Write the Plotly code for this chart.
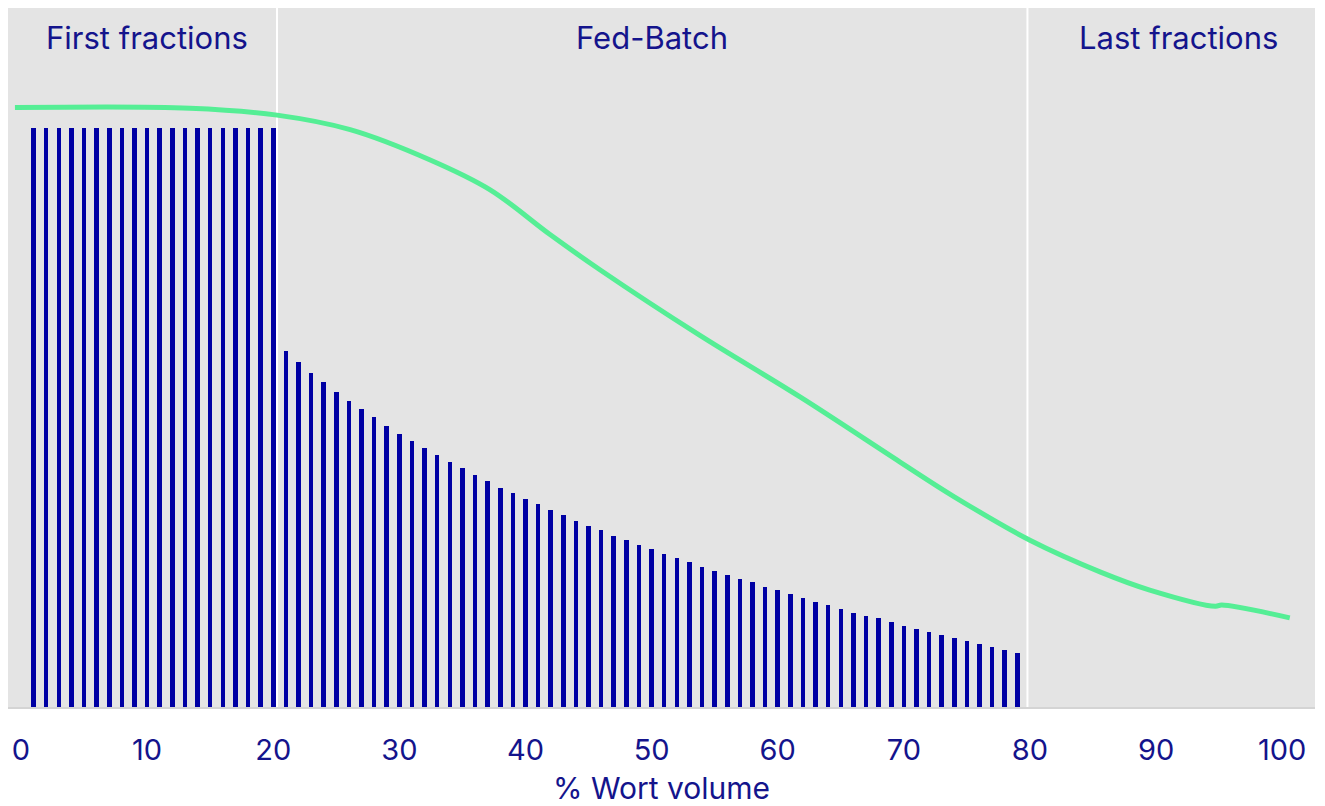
import plotly.graph_objects as go

# ---- data ----
bar_x = list(range(1, 80))
bar_values = [
    100, 100, 100, 100, 100, 100, 100, 100, 100, 100,
    100, 100, 100, 100, 100, 100, 100, 100, 100, 100,
    61.4, 59.6, 57.7, 56.1, 54.4, 52.9, 51.4, 50.0, 48.6, 47.2,
    45.9, 44.7, 43.5, 42.3, 41.2, 40.1, 39.0, 37.9, 37.0, 35.9,
    35.0, 34.0, 33.1, 32.2, 31.3, 30.5, 29.6, 28.8, 28.0, 27.2,
    26.5, 25.7, 25.0, 24.2, 23.5, 22.8, 22.1, 21.5, 20.7, 20.2,
    19.5, 18.8, 18.2, 17.6, 16.9, 16.3, 15.8, 15.3, 14.7, 14.0,
    13.5, 13.0, 12.4, 11.9, 11.4, 10.8, 10.4, 9.8, 9.3,
]

line_x = [-0.48, 13.4, 20.3, 26.1, 32.4, 37.2, 42.0, 45.9, 53.8, 61.8,
          69.7, 74.0, 80.0, 85.6, 89.5, 94.7, 95.2, 100.6]
line_y = [103.5, 103.4, 102.2, 99.7, 94.5, 89.3, 81.5, 75.5, 64.2, 53.5,
          42.3, 36.3, 28.8, 23.3, 20.2, 17.4, 17.6, 15.4]

phase_labels = ["First fractions", "Fed-Batch", "Last fractions"]
phase_centers = [10, 50, 91.8]
phase_bounds = [20.3, 79.8]

tick_vals = [0, 10, 20, 30, 40, 50, 60, 70, 80, 90, 100]
tick_text = ["0", "10", "20", "30", "40", "50", "60", "70", "80", "90", "100"]

x_title = "% Wort volume"

TEXT = "#14148c"
BAR = "#0000a3"
LINE = "#55ee95"
FONT = "Inter"

W, H = 1317, 798
ML, MR, MT, MB = 0, 10, 0, 99
plot_h = H - MT - MB

fig = go.Figure()
fig.add_trace(go.Bar(x=bar_x, y=bar_values, width=0.36,
                     marker=dict(color=BAR, line=dict(width=0)),
                     hoverinfo="skip"))
fig.add_trace(go.Scatter(x=line_x, y=line_y, mode="lines",
                         line=dict(color=LINE, width=5, shape="spline", smoothing=1.0),
                         hoverinfo="skip"))

for b in phase_bounds:
    fig.add_shape(type="line", xref="x", yref="paper", x0=b, x1=b, y0=0, y1=1,
                  line=dict(color="white", width=2), layer="below")

for lab, c in zip(phase_labels, phase_centers):
    fig.add_annotation(x=c, xref="x", y=1 - 30 / plot_h, yref="paper", yanchor="middle",
                       text=lab, showarrow=False,
                       font=dict(family=FONT, size=31, color=TEXT))

fig.update_layout(
    width=W, height=H,
    margin=dict(l=ML, r=MR, t=MT, b=MB),
    paper_bgcolor="white", plot_bgcolor="#e4e4e4",
    showlegend=False, bargap=0,
    font=dict(family=FONT, color=TEXT),
)
fig.update_xaxes(range=[-1.03, 102.6], tickvals=tick_vals, ticktext=tick_text,
                 showgrid=False, zeroline=False,
                 showline=True, linecolor="#d4d4d4", linewidth=2,
                 ticks="outside", ticklen=16, tickcolor="rgba(0,0,0,0)",
                 tickfont=dict(family=FONT, size=29, color=TEXT),
                 title=dict(text=x_title, standoff=16,
                            font=dict(family=FONT, size=30, color=TEXT)))
fig.update_yaxes(range=[0, 120.7], visible=False, showgrid=False, zeroline=False)

fig.write_html("out.html")
